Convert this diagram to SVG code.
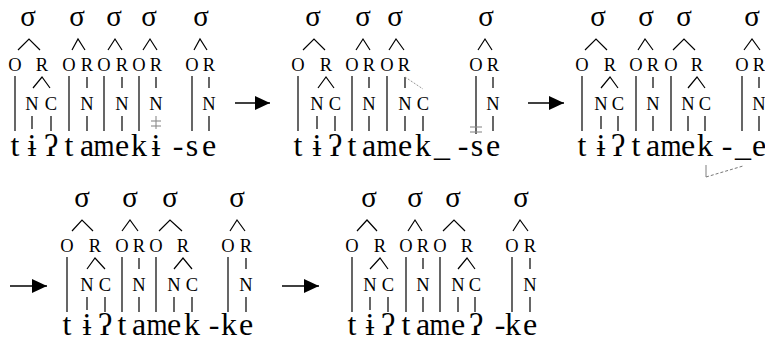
<svg xmlns="http://www.w3.org/2000/svg" width="765" height="341" viewBox="0 0 765 341">
<defs>
<style>
text{font-family:"Liberation Serif","DejaVu Serif",serif;fill:#000;text-anchor:middle}
.sig{font-size:29px}
.lab{font-size:18.5px}
.seg{font-size:32px}
.ln{stroke:#000;stroke-width:1.2;fill:none}
.gr{stroke:#8a8a8a;stroke-width:1.1;fill:none}
.dot{stroke:#8a8a8a;stroke-width:0.9;fill:none;stroke-dasharray:2 1.5}
.dsh{stroke:#777;stroke-width:1;fill:none;stroke-dasharray:3 2}
.arr{stroke:#000;stroke-width:1.6;fill:none;marker-end:url(#ah)}
</style>
<marker id="ah" markerUnits="userSpaceOnUse" markerWidth="16" markerHeight="14" refX="15" refY="7" orient="auto">
<path d="M0,0 L15,7 L0,14 z" fill="#000"/>
</marker>
</defs>
<rect width="765" height="341" fill="#fff"/>

<g id="connectors">
 <g id="arrows">
  <line class="arr" x1="235" y1="103" x2="270" y2="103"/>
  <line class="arr" x1="528" y1="103" x2="564" y2="103"/>
  <line class="arr" x1="10" y1="286" x2="47" y2="286"/>
  <line class="arr" x1="282" y1="286" x2="319" y2="286"/>
 </g>
 <g id="p1-edges">
  <polyline class="ln" points="18,50 29,39 40,50"/>
  <polyline class="ln" points="72,50 78,39 85,50"/>
  <polyline class="ln" points="108,50 115,39 122,50"/>
  <polyline class="ln" points="143,50 150,39 157,50"/>
  <polyline class="ln" points="194,50 200,39 207,50"/>
  <line class="ln" x1="15" y1="76" x2="15" y2="131"/>
  <line class="ln" x1="69" y1="76" x2="69" y2="131"/>
  <line class="ln" x1="104" y1="76" x2="104" y2="131"/>
  <line class="ln" x1="139" y1="76" x2="139" y2="131"/>
  <line class="ln" x1="192" y1="76" x2="192" y2="131"/>
  <polyline class="ln" points="33,88 42,77 50,88"/>
  <line class="ln" x1="87" y1="77" x2="87" y2="88"/>
  <line class="ln" x1="122" y1="77" x2="122" y2="88"/>
  <line class="ln" x1="156" y1="77" x2="156" y2="88"/>
  <line class="ln" x1="209" y1="77" x2="209" y2="88"/>
  <line class="ln" x1="32" y1="116" x2="32" y2="129"/>
  <line class="ln" x1="51" y1="116" x2="51" y2="131"/>
  <line class="ln" x1="87" y1="116" x2="87" y2="131"/>
  <line class="ln" x1="122" y1="116" x2="122" y2="131"/>
  <line class="gr" x1="156" y1="116" x2="156" y2="129"/>
  <line class="gr" x1="151" y1="121" x2="161" y2="121"/>
  <line class="gr" x1="151" y1="126" x2="161" y2="126"/>
  <line class="ln" x1="209" y1="116" x2="209" y2="131"/>
 </g>
 <g id="p2-edges">
  <polyline class="ln" points="303,50 314,39 325,50"/>
  <polyline class="ln" points="356,50 363,39 370,50"/>
  <polyline class="ln" points="389,50 396,39 404,50"/>
  <polyline class="ln" points="478,50 485,39 492,50"/>
  <line class="ln" x1="298" y1="76" x2="298" y2="131"/>
  <line class="ln" x1="352" y1="76" x2="352" y2="131"/>
  <line class="ln" x1="387" y1="76" x2="387" y2="131"/>
  <line class="ln" x1="476" y1="76" x2="476" y2="134"/>
  <line class="gr" x1="470" y1="127" x2="482" y2="127"/>
  <line class="gr" x1="470" y1="132" x2="482" y2="132"/>
  <polyline class="ln" points="318,88 326,77 334,88"/>
  <line class="ln" x1="369" y1="77" x2="369" y2="88"/>
  <line class="ln" x1="405" y1="77" x2="405" y2="88"/>
  <line class="dot" x1="405" y1="77" x2="423" y2="89"/>
  <line class="ln" x1="493" y1="77" x2="493" y2="88"/>
  <line class="ln" x1="317" y1="116" x2="317" y2="129"/>
  <line class="ln" x1="335" y1="116" x2="335" y2="131"/>
  <line class="ln" x1="369" y1="116" x2="369" y2="131"/>
  <line class="ln" x1="405" y1="116" x2="405" y2="131"/>
  <line class="ln" x1="423" y1="116" x2="423" y2="131"/>
  <line class="ln" x1="493" y1="116" x2="493" y2="131"/>
 </g>
 <g id="p3-edges">
  <polyline class="ln" points="585,50 596,39 607,50"/>
  <polyline class="ln" points="638,50 645,39 653,50"/>
  <polyline class="ln" points="673,50 684,39 695,50"/>
  <polyline class="ln" points="744,50 752,39 760,50"/>
  <line class="ln" x1="582" y1="76" x2="582" y2="131"/>
  <line class="ln" x1="636" y1="76" x2="636" y2="131"/>
  <line class="ln" x1="671" y1="76" x2="671" y2="131"/>
  <line class="ln" x1="742" y1="76" x2="742" y2="131"/>
  <polyline class="ln" points="601,88 610,77 618,88"/>
  <line class="ln" x1="653" y1="77" x2="653" y2="88"/>
  <polyline class="ln" points="688,88 697,77 705,88"/>
  <line class="ln" x1="759" y1="77" x2="759" y2="88"/>
  <line class="ln" x1="601" y1="116" x2="601" y2="129"/>
  <line class="ln" x1="618" y1="116" x2="618" y2="131"/>
  <line class="ln" x1="653" y1="116" x2="653" y2="131"/>
  <line class="ln" x1="688" y1="116" x2="688" y2="131"/>
  <line class="ln" x1="705" y1="116" x2="705" y2="131"/>
  <line class="ln" x1="759" y1="116" x2="759" y2="131"/>
  <line class="gr" x1="706" y1="165" x2="706" y2="177"/>
  <line class="dsh" x1="706" y1="177" x2="743" y2="166"/>
 </g>
 <g id="p4-edges" transform="translate(0,181)">
  <polyline class="ln" points="72,50 82,39 93,50"/>
  <polyline class="ln" points="122,50 130,39 138,50"/>
  <polyline class="ln" points="159,50 170,39 182,50"/>
  <polyline class="ln" points="230,50 237,39 245,50"/>
  <line class="ln" x1="67" y1="76" x2="67" y2="131"/>
  <line class="ln" x1="122" y1="76" x2="122" y2="131"/>
  <line class="ln" x1="156" y1="76" x2="156" y2="131"/>
  <line class="ln" x1="228" y1="76" x2="228" y2="131"/>
  <polyline class="ln" points="87,88 95,77 105,88"/>
  <line class="ln" x1="139" y1="77" x2="139" y2="88"/>
  <polyline class="ln" points="174,88 183,77 192,88"/>
  <line class="ln" x1="246" y1="77" x2="246" y2="88"/>
  <line class="ln" x1="87" y1="116" x2="87" y2="129"/>
  <line class="ln" x1="105" y1="116" x2="105" y2="131"/>
  <line class="ln" x1="139" y1="116" x2="139" y2="131"/>
  <line class="ln" x1="174" y1="116" x2="174" y2="131"/>
  <line class="ln" x1="192" y1="116" x2="192" y2="131"/>
  <line class="ln" x1="246" y1="116" x2="246" y2="131"/>
 </g>
 <g id="p5-edges" transform="translate(0,181)">
  <polyline class="ln" points="357,50 367,39 377,50"/>
  <polyline class="ln" points="408,50 415,39 422,50"/>
  <polyline class="ln" points="443,50 454,39 465,50"/>
  <polyline class="ln" points="513,50 520,39 528,50"/>
  <line class="ln" x1="352" y1="76" x2="352" y2="131"/>
  <line class="ln" x1="406" y1="76" x2="406" y2="131"/>
  <line class="ln" x1="440" y1="76" x2="440" y2="131"/>
  <line class="ln" x1="512" y1="76" x2="512" y2="131"/>
  <polyline class="ln" points="370,88 380,77 388,88"/>
  <line class="ln" x1="423" y1="77" x2="423" y2="88"/>
  <polyline class="ln" points="458,88 467,77 475,88"/>
  <line class="ln" x1="530" y1="77" x2="530" y2="88"/>
  <line class="ln" x1="370" y1="116" x2="370" y2="129"/>
  <line class="ln" x1="388" y1="116" x2="388" y2="131"/>
  <line class="ln" x1="423" y1="116" x2="423" y2="131"/>
  <line class="ln" x1="458" y1="116" x2="458" y2="131"/>
  <line class="ln" x1="475" y1="116" x2="475" y2="131"/>
  <line class="ln" x1="530" y1="116" x2="530" y2="131"/>
 </g>
</g>

<g id="panel1">
 <g id="p1-s1"><text class="sig" x="28" y="26">σ</text></g>
 <g id="p1-s2"><text class="sig" x="77" y="26">σ</text></g>
 <g id="p1-s3"><text class="sig" x="114" y="26">σ</text></g>
 <g id="p1-s4"><text class="sig" x="149" y="26">σ</text></g>
 <g id="p1-s5"><text class="sig" x="201" y="26">σ</text></g>
 <g id="p1-o1"><text class="lab" x="15" y="71">O</text></g>
 <g id="p1-r1"><text class="lab" x="42" y="71">R</text></g>
 <g id="p1-o2"><text class="lab" x="69" y="71">O</text></g>
 <g id="p1-r2"><text class="lab" x="87" y="71">R</text></g>
 <g id="p1-o3"><text class="lab" x="104" y="71">O</text></g>
 <g id="p1-r3"><text class="lab" x="122" y="71">R</text></g>
 <g id="p1-o4"><text class="lab" x="139" y="71">O</text></g>
 <g id="p1-r4"><text class="lab" x="156" y="71">R</text></g>
 <g id="p1-o5"><text class="lab" x="192" y="71">O</text></g>
 <g id="p1-r5"><text class="lab" x="209" y="71">R</text></g>
 <g id="p1-n1"><text class="lab" x="32" y="110">N</text></g>
 <g id="p1-c1"><text class="lab" x="51" y="110">C</text></g>
 <g id="p1-n2"><text class="lab" x="87" y="110">N</text></g>
 <g id="p1-n3"><text class="lab" x="122" y="110">N</text></g>
 <g id="p1-n4"><text class="lab" x="156" y="110">N</text></g>
 <g id="p1-n5"><text class="lab" x="209" y="110">N</text></g>
 <g id="p1-segs">
  <text class="seg" x="15" y="156">t</text><text class="seg" x="32" y="156">ɨ</text><text class="seg" x="51" y="156">ʔ</text>
  <text class="seg" x="69" y="156">t</text><text class="seg" x="87" y="156">a</text><text class="seg" x="104" y="156" textLength="21" lengthAdjust="spacingAndGlyphs">m</text>
  <text class="seg" x="122" y="156">e</text><text class="seg" x="139" y="156">k</text><text class="seg" x="156" y="156">ɨ</text>
  <text class="seg" x="178" y="156">-</text><text class="seg" x="192" y="156">s</text><text class="seg" x="209" y="156">e</text>
 </g>
</g>

<g id="panel2">
 <g id="p2-s1"><text class="sig" x="313" y="26">σ</text></g>
 <g id="p2-s2"><text class="sig" x="363" y="26">σ</text></g>
 <g id="p2-s3"><text class="sig" x="395" y="26">σ</text></g>
 <g id="p2-s4"><text class="sig" x="486" y="26">σ</text></g>
 <g id="p2-o1"><text class="lab" x="298" y="71">O</text></g>
 <g id="p2-r1"><text class="lab" x="326" y="71">R</text></g>
 <g id="p2-o2"><text class="lab" x="352" y="71">O</text></g>
 <g id="p2-r2"><text class="lab" x="369" y="71">R</text></g>
 <g id="p2-o3"><text class="lab" x="387" y="71">O</text></g>
 <g id="p2-r3"><text class="lab" x="404" y="71">R</text></g>
 <g id="p2-o4"><text class="lab" x="476" y="71">O</text></g>
 <g id="p2-r4"><text class="lab" x="493" y="71">R</text></g>
 <g id="p2-n1"><text class="lab" x="317" y="110">N</text></g>
 <g id="p2-c1"><text class="lab" x="335" y="110">C</text></g>
 <g id="p2-n2"><text class="lab" x="369" y="110">N</text></g>
 <g id="p2-n3"><text class="lab" x="405" y="110">N</text></g>
 <g id="p2-c3"><text class="lab" x="423" y="110">C</text></g>
 <g id="p2-n4"><text class="lab" x="493" y="110">N</text></g>
 <g id="p2-segs">
  <text class="seg" x="298" y="156">t</text><text class="seg" x="317" y="156">ɨ</text><text class="seg" x="335" y="156">ʔ</text>
  <text class="seg" x="352" y="156">t</text><text class="seg" x="369" y="156">a</text><text class="seg" x="387" y="156" textLength="21" lengthAdjust="spacingAndGlyphs">m</text>
  <text class="seg" x="405" y="156">e</text><text class="seg" x="423" y="156">k</text><text class="seg" x="442" y="156">_</text>
  <text class="seg" x="463" y="156">-</text><text class="seg" x="477" y="156">s</text><text class="seg" x="493" y="156">e</text>
 </g>
</g>

<g id="panel3">
 <g id="p3-s1"><text class="sig" x="598" y="26">σ</text></g>
 <g id="p3-s2"><text class="sig" x="646" y="26">σ</text></g>
 <g id="p3-s3"><text class="sig" x="684" y="26">σ</text></g>
 <g id="p3-s4"><text class="sig" x="752" y="26">σ</text></g>
 <g id="p3-o1"><text class="lab" x="582" y="71">O</text></g>
 <g id="p3-r1"><text class="lab" x="610" y="71">R</text></g>
 <g id="p3-o2"><text class="lab" x="636" y="71">O</text></g>
 <g id="p3-r2"><text class="lab" x="653" y="71">R</text></g>
 <g id="p3-o3"><text class="lab" x="671" y="71">O</text></g>
 <g id="p3-r3"><text class="lab" x="697" y="71">R</text></g>
 <g id="p3-o4"><text class="lab" x="742" y="71">O</text></g>
 <g id="p3-r4"><text class="lab" x="759" y="71">R</text></g>
 <g id="p3-n1"><text class="lab" x="601" y="110">N</text></g>
 <g id="p3-c1"><text class="lab" x="618" y="110">C</text></g>
 <g id="p3-n2"><text class="lab" x="653" y="110">N</text></g>
 <g id="p3-n3"><text class="lab" x="688" y="110">N</text></g>
 <g id="p3-c3"><text class="lab" x="705" y="110">C</text></g>
 <g id="p3-n4"><text class="lab" x="759" y="110">N</text></g>
 <g id="p3-segs">
  <text class="seg" x="582" y="156">t</text><text class="seg" x="601" y="156">ɨ</text><text class="seg" x="618" y="156">ʔ</text>
  <text class="seg" x="636" y="156">t</text><text class="seg" x="653" y="156">a</text><text class="seg" x="671" y="156" textLength="21" lengthAdjust="spacingAndGlyphs">m</text>
  <text class="seg" x="688" y="156">e</text><text class="seg" x="705" y="156">k</text><text class="seg" x="727" y="156">-</text>
  <text class="seg" x="743" y="156">_</text><text class="seg" x="759" y="156">e</text>
 </g>
</g>

<g id="panel4" transform="translate(0,181)">
 <g id="p4-s1"><text class="sig" x="82" y="26">σ</text></g>
 <g id="p4-s2"><text class="sig" x="130" y="26">σ</text></g>
 <g id="p4-s3"><text class="sig" x="170" y="26">σ</text></g>
 <g id="p4-s4"><text class="sig" x="237" y="26">σ</text></g>
 <g id="p4-o1"><text class="lab" x="67" y="71">O</text></g>
 <g id="p4-r1"><text class="lab" x="95" y="71">R</text></g>
 <g id="p4-o2"><text class="lab" x="122" y="71">O</text></g>
 <g id="p4-r2"><text class="lab" x="139" y="71">R</text></g>
 <g id="p4-o3"><text class="lab" x="156" y="71">O</text></g>
 <g id="p4-r3"><text class="lab" x="183" y="71">R</text></g>
 <g id="p4-o4"><text class="lab" x="228" y="71">O</text></g>
 <g id="p4-r4"><text class="lab" x="246" y="71">R</text></g>
 <g id="p4-n1"><text class="lab" x="87" y="110">N</text></g>
 <g id="p4-c1"><text class="lab" x="105" y="110">C</text></g>
 <g id="p4-n2"><text class="lab" x="139" y="110">N</text></g>
 <g id="p4-n3"><text class="lab" x="174" y="110">N</text></g>
 <g id="p4-c3"><text class="lab" x="192" y="110">C</text></g>
 <g id="p4-n4"><text class="lab" x="246" y="110">N</text></g>
 <g id="p4-segs">
  <text class="seg" x="67" y="154">t</text><text class="seg" x="87" y="154">ɨ</text><text class="seg" x="105" y="154">ʔ</text>
  <text class="seg" x="122" y="154">t</text><text class="seg" x="139" y="154">a</text><text class="seg" x="157" y="154" textLength="21" lengthAdjust="spacingAndGlyphs">m</text>
  <text class="seg" x="174" y="154">e</text><text class="seg" x="192" y="154">k</text><text class="seg" x="214" y="154">-</text>
  <text class="seg" x="229" y="154">k</text><text class="seg" x="246" y="154">e</text>
 </g>
</g>

<g id="panel5" transform="translate(0,181)">
 <g id="p5-s1"><text class="sig" x="369" y="26">σ</text></g>
 <g id="p5-s2"><text class="sig" x="415" y="26">σ</text></g>
 <g id="p5-s3"><text class="sig" x="453" y="26">σ</text></g>
 <g id="p5-s4"><text class="sig" x="521" y="26">σ</text></g>
 <g id="p5-o1"><text class="lab" x="352" y="71">O</text></g>
 <g id="p5-r1"><text class="lab" x="380" y="71">R</text></g>
 <g id="p5-o2"><text class="lab" x="406" y="71">O</text></g>
 <g id="p5-r2"><text class="lab" x="423" y="71">R</text></g>
 <g id="p5-o3"><text class="lab" x="440" y="71">O</text></g>
 <g id="p5-r3"><text class="lab" x="467" y="71">R</text></g>
 <g id="p5-o4"><text class="lab" x="512" y="71">O</text></g>
 <g id="p5-r4"><text class="lab" x="530" y="71">R</text></g>
 <g id="p5-n1"><text class="lab" x="370" y="110">N</text></g>
 <g id="p5-c1"><text class="lab" x="388" y="110">C</text></g>
 <g id="p5-n2"><text class="lab" x="423" y="110">N</text></g>
 <g id="p5-n3"><text class="lab" x="458" y="110">N</text></g>
 <g id="p5-c3"><text class="lab" x="475" y="110">C</text></g>
 <g id="p5-n4"><text class="lab" x="530" y="110">N</text></g>
 <g id="p5-segs">
  <text class="seg" x="352" y="154">t</text><text class="seg" x="370" y="154">ɨ</text><text class="seg" x="388" y="154">ʔ</text>
  <text class="seg" x="406" y="154">t</text><text class="seg" x="423" y="154">a</text><text class="seg" x="440" y="154" textLength="21" lengthAdjust="spacingAndGlyphs">m</text>
  <text class="seg" x="458" y="154">e</text><text class="seg" x="476" y="154">ʔ</text><text class="seg" x="500" y="154">-</text>
  <text class="seg" x="513" y="154">k</text><text class="seg" x="530" y="154">e</text>
 </g>
</g>
</svg>
